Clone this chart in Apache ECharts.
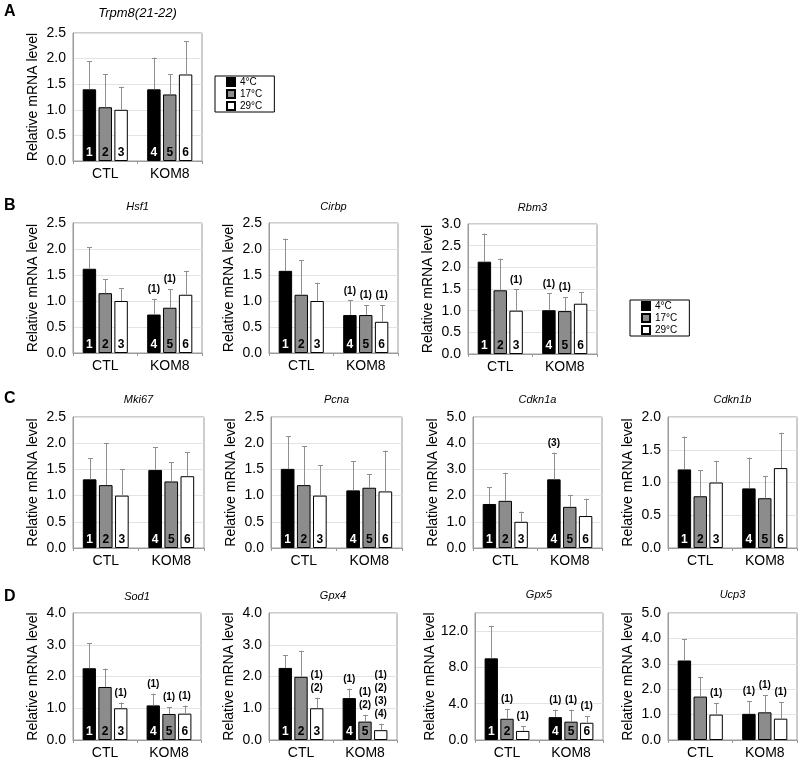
<!DOCTYPE html>
<html><head><meta charset="utf-8">
<script src="https://cdn.jsdelivr.net/npm/echarts@6/dist/echarts.min.js"></script>
<style>html,body{margin:0;padding:0;background:#fff}#c{width:800px;height:760px}</style>
</head><body><div id="c"></div>
<script>
const categories = ['CTL', 'KOM8'];
const temps = ['4°C', '17°C', '29°C'];
const allNums = ['1', '2', '3', '4', '5', '6'];
const noSig = ['', '', '', '', '', ''];

// bars ordered: CTL 4°C, CTL 17°C, CTL 29°C, KOM8 4°C, KOM8 17°C, KOM8 29°C
const trpm8Mean  = [1.40, 1.05, 1.00, 1.40, 1.30, 1.69];
const trpm8Upper = [1.95, 1.70, 1.45, 2.02, 1.70, 2.34];

const hsf1Mean  = [1.62, 1.15, 1.00, 0.74, 0.87, 1.12];
const hsf1Upper = [2.04, 1.42, 1.25, 1.04, 1.23, 1.58];
const hsf1Sig   = ['', '', '', '(1)', '(1)', ''];

const cirbpMean  = [1.58, 1.12, 1.00, 0.73, 0.73, 0.60];
const cirbpUpper = [2.20, 1.78, 1.35, 1.01, 0.92, 0.92];
const cirbpSig   = ['', '', '', '(1)', '(1)', '(1)'];

const rbm3Mean  = [2.13, 1.47, 1.00, 1.01, 0.99, 1.16];
const rbm3Upper = [2.78, 2.20, 1.49, 1.40, 1.31, 1.42];
const rbm3Sig   = ['', '', '(1)', '(1)', '(1)', ''];

const mki67Mean  = [1.31, 1.20, 1.00, 1.49, 1.27, 1.37];
const mki67Upper = [1.71, 2.00, 1.50, 1.92, 1.64, 1.83];

const pcnaMean  = [1.51, 1.20, 1.00, 1.10, 1.15, 1.08];
const pcnaUpper = [2.13, 1.94, 1.58, 1.66, 1.41, 1.86];

const cdkn1aMean  = [1.68, 1.80, 1.00, 2.62, 1.57, 1.22];
const cdkn1aUpper = [2.33, 2.87, 1.39, 3.64, 2.03, 1.88];
const cdkn1aSig   = ['', '', '', '(3)', '', ''];

const cdkn1bMean  = [1.20, 0.79, 1.00, 0.91, 0.76, 1.22];
const cdkn1bUpper = [1.70, 1.19, 1.33, 1.38, 1.10, 1.76];

const sod1Mean  = [2.26, 1.67, 1.00, 1.09, 0.82, 0.83];
const sod1Upper = [3.05, 2.25, 1.18, 1.46, 1.04, 1.08];
const sod1Sig   = ['', '', '(1)', '(1)', '(1)', '(1)'];

const gpx4Mean  = [2.27, 1.99, 1.00, 1.32, 0.58, 0.31];
const gpx4Upper = [2.67, 2.81, 1.33, 1.62, 0.79, 0.51];
const gpx4Sig   = ['', '', '(1)\n(2)', '(1)', '(1)\n(2)', '(1)\n(2)\n(3)\n(4)'];
const gpx4Nums  = ['1', '2', '3', '4', '5', ''];

const gpx5Mean  = [9.00, 2.34, 1.00, 2.52, 2.02, 1.90];
const gpx5Upper = [12.60, 3.42, 1.55, 3.35, 3.35, 2.63];
const gpx5Sig   = ['', '(1)', '(1)', '(1)', '(1)', '(1)'];
const gpx5Nums  = ['1', '2', '', '4', '5', '6'];

const ucp3Mean  = [3.13, 1.71, 1.00, 1.03, 1.09, 0.84];
const ucp3Upper = [3.98, 2.48, 1.45, 1.54, 1.77, 1.49];
const ucp3Sig   = ['', '', '(1)', '(1)', '(1)', '(1)'];
const ucp3Nums  = ['', '', '', '', '', ''];

const FONT = "'Liberation Sans', Arial, sans-serif";
const barColors = ['#000000', '#8c8c8c', '#ffffff'];
const numColors = ['#ffffff', '#000000', '#000000'];

const panels = [
  {title: 'Trpm8(21-22)', tsize: 13, ty: 13, mean: trpm8Mean, upper: trpm8Upper, sig: noSig, nums: allNums, max: 2.5, step: 0.5, box: [73, 33, 129, 128]},
  {title: 'Hsf1', ty: 207, mean: hsf1Mean, upper: hsf1Upper, sig: hsf1Sig, nums: allNums, max: 2.5, step: 0.5, box: [73, 223, 129, 130]},
  {title: 'Cirbp', ty: 207, mean: cirbpMean, upper: cirbpUpper, sig: cirbpSig, nums: allNums, max: 2.5, step: 0.5, box: [269, 223, 129, 130]},
  {title: 'Rbm3', ty: 208, mean: rbm3Mean, upper: rbm3Upper, sig: rbm3Sig, nums: allNums, max: 3.0, step: 0.5, box: [468, 224, 129, 130]},
  {title: 'Mki67', ty: 400, mean: mki67Mean, upper: mki67Upper, sig: noSig, nums: allNums, max: 2.5, step: 0.5, box: [73, 417, 131, 131]},
  {title: 'Pcna', ty: 400, mean: pcnaMean, upper: pcnaUpper, sig: noSig, nums: allNums, max: 2.5, step: 0.5, box: [271, 417, 131, 131]},
  {title: 'Cdkn1a', ty: 400, mean: cdkn1aMean, upper: cdkn1aUpper, sig: cdkn1aSig, nums: allNums, max: 5, step: 1, box: [473, 417, 129, 131]},
  {title: 'Cdkn1b', ty: 400, mean: cdkn1bMean, upper: cdkn1bUpper, sig: noSig, nums: allNums, max: 2, step: 0.5, box: [668, 417, 129, 131]},
  {title: 'Sod1', ty: 597, mean: sod1Mean, upper: sod1Upper, sig: sod1Sig, nums: allNums, max: 4, step: 1, box: [73, 613, 128, 130]},
  {title: 'Gpx4', ty: 596, mean: gpx4Mean, upper: gpx4Upper, sig: gpx4Sig, nums: gpx4Nums, max: 4, step: 1, box: [269, 613, 128, 130]},
  {title: 'Gpx5', ty: 595, mean: gpx5Mean, upper: gpx5Upper, sig: gpx5Sig, nums: gpx5Nums, max: 14, step: 4, box: [475, 613, 128, 130]},
  {title: 'Ucp3', ty: 595, mean: ucp3Mean, upper: ucp3Upper, sig: ucp3Sig, nums: ucp3Nums, max: 5, step: 1, box: [668, 613, 129, 130]}
];

const letters = [['A', 12], ['B', 206], ['C', 399], ['D', 597]];

const CAT_GAP = 0.30, BAR_GAP = 0.18;

const grid = [], xAxis = [], yAxis = [], series = [], graphic = [];

panels.forEach((p, i) => {
  grid.push({left: p.box[0], top: p.box[1], width: p.box[2], height: p.box[3],
    show: true, borderColor: '#9a9a9a', borderWidth: 1});
  xAxis.push({type: 'category', gridIndex: i, data: categories,
    axisLine: {show: true, lineStyle: {color: '#9a9a9a'}},
    axisTick: {show: true, length: 3, lineStyle: {color: '#9a9a9a'}},
    axisLabel: {fontSize: 14, color: '#000', margin: 6, fontFamily: FONT}});
  const ratio = p.max / p.step;
  const aligned = Math.abs(ratio - Math.round(ratio)) < 1e-6;
  yAxis.push({type: 'value', gridIndex: i, min: 0, max: p.max, interval: p.step,
    axisLine: {show: true, lineStyle: {color: '#9a9a9a'}},
    axisTick: {show: false},
    splitLine: {show: true, lineStyle: {color: '#e3e3e3', width: 1}},
    axisLabel: {fontSize: 14, color: '#000', margin: 7, fontFamily: FONT,
      showMaxLabel: aligned, formatter: v => v.toFixed(1)},
    name: 'Relative mRNA level', nameLocation: 'middle', nameGap: 33,
    nameTextStyle: {fontSize: 14, color: '#000', fontFamily: FONT}});

  for (let s = 0; s < 3; s++) {
    series.push({
      type: 'bar', name: temps[s], xAxisIndex: i, yAxisIndex: i,
      data: [p.mean[s], p.mean[s + 3]],
      barCategoryGap: (CAT_GAP * 100) + '%', barGap: (BAR_GAP * 100) + '%',
      itemStyle: {color: barColors[s], borderColor: '#000', borderWidth: 1},
      label: {show: true, position: 'insideBottom', distance: 2, fontSize: 12,
        fontWeight: 'bold', fontFamily: FONT, color: numColors[s],
        formatter: q => p.nums[q.dataIndex * 3 + s]},
      silent: true, z: 2
    });
  }

  const errData = [];
  for (let c = 0; c < 2; c++) for (let s = 0; s < 3; s++) {
    errData.push([c, s, p.mean[c * 3 + s], p.upper[c * 3 + s]]);
  }
  series.push({
    type: 'custom', xAxisIndex: i, yAxisIndex: i, data: errData,
    encode: {x: 0, y: 3}, silent: true, z: 5,
    renderItem: (params, api) => {
      const c = api.value(0), s = api.value(1);
      const band = api.size([1, 0])[0];
      const bw = band * (1 - CAT_GAP) / (3 + 2 * BAR_GAP);
      const cx = api.coord([c, 0])[0] + (s - 1) * bw * (1 + BAR_GAP);
      const y0 = api.coord([c, api.value(2)])[1];
      const y1 = api.coord([c, api.value(3)])[1];
      const ls = {stroke: '#8f8f8f', lineWidth: 1};
      const children = [
        {type: 'line', shape: {x1: Math.round(cx) + 0.5, y1: y0, x2: Math.round(cx) + 0.5, y2: y1}, style: ls},
        {type: 'line', shape: {x1: Math.round(cx) - 2, y1: Math.round(y1) + 0.5, x2: Math.round(cx) + 3, y2: Math.round(y1) + 0.5}, style: ls}
      ];
      const txt = p.sig[params.dataIndex];
      if (txt) {
        children.push({type: 'text', style: {text: txt, x: cx, y: y1 - 3,
          align: 'center', textAlign: 'center', verticalAlign: 'bottom', textVerticalAlign: 'bottom',
          font: 'bold 10px ' + FONT, lineHeight: 13, fill: '#000'}});
      }
      return {type: 'group', children};
    }
  });

  graphic.push({type: 'text', x: p.box[0] + p.box[2] / 2, y: p.ty, silent: true,
    style: {text: p.title, align: 'center', textAlign: 'center', verticalAlign: 'middle', textVerticalAlign: 'middle',
      font: 'italic ' + (p.tsize || 11) + 'px ' + FONT, fill: '#000'}});
});

letters.forEach(([t, y]) => {
  graphic.push({type: 'text', x: 4, y: y, silent: true,
    style: {text: t, align: 'left', textAlign: 'left', verticalAlign: 'middle', textVerticalAlign: 'middle',
      font: 'bold 16px ' + FONT, fill: '#000'}});
});

const legendBase = {
  data: temps, orient: 'vertical', icon: 'rect', itemWidth: 8, itemHeight: 8,
  itemGap: 2, itemTextGap: 6, padding: [1, 12, 1, 11],
  borderColor: '#000', borderWidth: 1, backgroundColor: '#fff',
  textStyle: {fontSize: 10, lineHeight: 10, color: '#000', fontFamily: FONT},
  selectedMode: false
};

const option = {
  animation: false,
  backgroundColor: '#fff',
  textStyle: {fontFamily: FONT},
  grid, xAxis, yAxis, series, graphic,
  legend: [
    Object.assign({}, legendBase, {left: 215, top: 76}),
    Object.assign({}, legendBase, {left: 630, top: 300})
  ]
};

const chart = echarts.init(document.getElementById('c'), null, {renderer: 'canvas'});
chart.setOption(option);
</script>
</body></html>
